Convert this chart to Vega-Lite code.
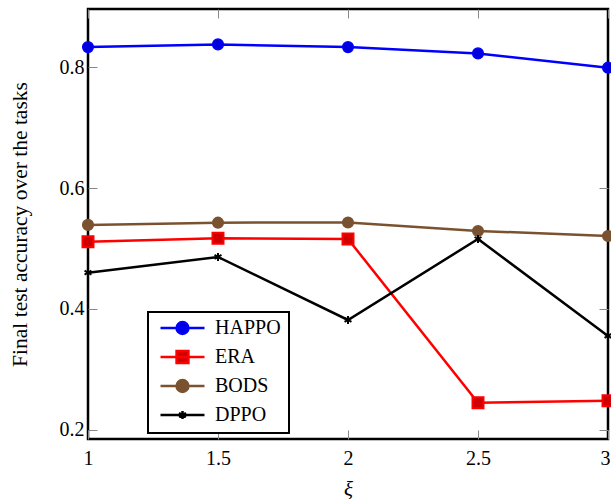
{
  "$schema": "https://vega.github.io/schema/vega-lite/v6.json",
  "width": 520,
  "height": 430,
  "autosize": "none",
  "padding": {"left": 88, "top": 9, "right": 3, "bottom": 60},
  "background": "white",
  "config": {
    "view": {"stroke": "black", "strokeWidth": 2.5},
    "font": "Liberation Serif",
    "axis": {
      "labelFont": "Liberation Serif",
      "titleFont": "Liberation Serif",
      "labelFontSize": 20,
      "titleFontSize": 20,
      "titleFontWeight": "normal",
      "labelColor": "black",
      "titleColor": "black",
      "domain": false,
      "grid": false,
      "tickSize": -9,
      "tickColor": "#888888",
      "tickWidth": 1
    }
  },
  "data": {
    "values": [
      {"series": "HAPPO", "xi": 1, "acc": 0.833},
      {"series": "HAPPO", "xi": 1.5, "acc": 0.8375},
      {"series": "HAPPO", "xi": 2, "acc": 0.833},
      {"series": "HAPPO", "xi": 2.5, "acc": 0.8226},
      {"series": "HAPPO", "xi": 3, "acc": 0.799},
      {"series": "ERA", "xi": 1, "acc": 0.511},
      {"series": "ERA", "xi": 1.5, "acc": 0.517},
      {"series": "ERA", "xi": 2, "acc": 0.5157},
      {"series": "ERA", "xi": 2.5, "acc": 0.245},
      {"series": "ERA", "xi": 3, "acc": 0.2484},
      {"series": "BODS", "xi": 1, "acc": 0.539},
      {"series": "BODS", "xi": 1.5, "acc": 0.5427},
      {"series": "BODS", "xi": 2, "acc": 0.543},
      {"series": "BODS", "xi": 2.5, "acc": 0.529},
      {"series": "BODS", "xi": 3, "acc": 0.5207},
      {"series": "DPPO", "xi": 1, "acc": 0.46},
      {"series": "DPPO", "xi": 1.5, "acc": 0.486},
      {"series": "DPPO", "xi": 2, "acc": 0.3818},
      {"series": "DPPO", "xi": 2.5, "acc": 0.5157},
      {"series": "DPPO", "xi": 3, "acc": 0.3554}
    ]
  },
  "resolve": {"axis": {"x": "independent", "y": "independent"}},
  "layer": [
    {
      "mark": {"type": "line", "strokeWidth": 2.5},
      "encoding": {
        "x": {
          "field": "xi", "type": "quantitative",
          "scale": {"domain": [1, 3], "nice": false, "zero": false},
          "axis": {"orient": "bottom", "values": [1, 1.5, 2, 2.5, 3], "format": "~g", "title": "ξ", "titleFontStyle": "italic", "titleFontSize": 21, "labelPadding": 18, "titlePadding": 10, "labelFlush": false,
            "labelAlign": {"condition": {"test": "datum.value === 3", "value": "right"}, "value": "center"},
            "labelOffset": {"condition": {"test": "datum.value === 3", "value": 2}, "value": 0}}
        },
        "y": {
          "field": "acc", "type": "quantitative",
          "scale": {"domain": [0.185, 0.896], "nice": false, "zero": false},
          "axis": {"orient": "left", "values": [0.2, 0.4, 0.6, 0.8], "format": ".1f", "title": "Final test accuracy over the tasks", "titleFontSize": 21.5, "labelPadding": 13, "titlePadding": 28}
        },
        "color": {
          "field": "series", "type": "nominal",
          "scale": {"domain": ["HAPPO", "ERA", "BODS", "DPPO"], "range": ["#0000ff", "#ff0000", "#7a5230", "#000000"]},
          "legend": {
            "title": null,
            "orient": "none",
            "legendX": 60,
            "legendY": 303,
            "strokeColor": "black",
            "fillColor": "white",
            "padding": 8,
            "symbolOffset": 3,
            "labelOffset": 9,
            "clipHeight": 16,
            "rowPadding": 9,
            "symbolSize": 1936,
            "symbolStrokeWidth": 2.5,
            "labelFont": "Liberation Serif",
            "labelFontSize": 20,
            "labelColor": "black",
            "encode": {
              "legend": {"update": {"strokeWidth": {"value": 2}}},
              "symbols": {
                "update": {
                  "shape": {"signal": "datum.value === 'HAPPO' || datum.value === 'BODS' ? 'M-1,0L1,0M0.27,0A0.27,0.27,0,1,1,-0.27,0A0.27,0.27,0,1,1,0.27,0Z' : datum.value === 'ERA' ? 'M-1,0L1,0M-0.27,-0.27H0.27V0.27H-0.27Z' : 'M-1,0L1,0M0,-0.18V0.18M-0.16,-0.09L0.16,0.09M-0.16,0.09L0.16,-0.09'"},
                  "stroke": {"signal": "datum.value === 'HAPPO' ? '#0000ff' : datum.value === 'ERA' ? '#ff0000' : datum.value === 'BODS' ? '#7a5230' : '#000000'"},
                  "fill": {"signal": "datum.value === 'HAPPO' ? '#0000dd' : datum.value === 'ERA' ? '#d00000' : datum.value === 'BODS' ? '#7a5230' : '#000000'"},
                  "strokeWidth": {"value": 2.5},
                  "opacity": {"value": 1},
                  "size": {"value": 1936}
                }
              }
            }
          }
        }
      }
    },
    {
      "transform": [{"filter": "datum.series === 'HAPPO'"}],
      "mark": {"type": "point", "shape": "circle", "filled": true, "size": 113, "fill": "#0000dd", "stroke": "#0000ff", "strokeWidth": 1.5, "opacity": 1},
      "encoding": {
        "x": {
          "field": "xi", "type": "quantitative",
          "axis": {"orient": "top", "values": [1, 1.5, 2, 2.5, 3], "labels": false, "title": null}
        },
        "y": {
          "field": "acc", "type": "quantitative",
          "axis": {"orient": "right", "values": [0.2, 0.4, 0.6, 0.8], "labels": false, "title": null}
        }
      }
    },
    {
      "transform": [{"filter": "datum.series === 'ERA'"}],
      "mark": {"type": "point", "shape": "square", "filled": true, "size": 120, "fill": "#d00000", "stroke": "#ff0000", "strokeWidth": 2, "opacity": 1},
      "encoding": {
        "x": {"field": "xi", "type": "quantitative", "axis": null},
        "y": {"field": "acc", "type": "quantitative", "axis": null}
      }
    },
    {
      "transform": [{"filter": "datum.series === 'BODS'"}],
      "mark": {"type": "point", "shape": "circle", "filled": true, "size": 113, "fill": "#7a5230", "stroke": "#7a5230", "strokeWidth": 1.5, "opacity": 1},
      "encoding": {
        "x": {"field": "xi", "type": "quantitative", "axis": null},
        "y": {"field": "acc", "type": "quantitative", "axis": null}
      }
    },
    {
      "transform": [{"filter": "datum.series === 'DPPO'"}],
      "mark": {"type": "point", "shape": "M0,-0.75V0.75M-0.65,-0.375L0.65,0.375M-0.65,0.375L0.65,-0.375", "filled": true, "size": 113, "fill": "#000000", "stroke": "#000000", "strokeWidth": 2, "opacity": 1},
      "encoding": {
        "x": {"field": "xi", "type": "quantitative", "axis": null},
        "y": {"field": "acc", "type": "quantitative", "axis": null}
      }
    }
  ]
}
